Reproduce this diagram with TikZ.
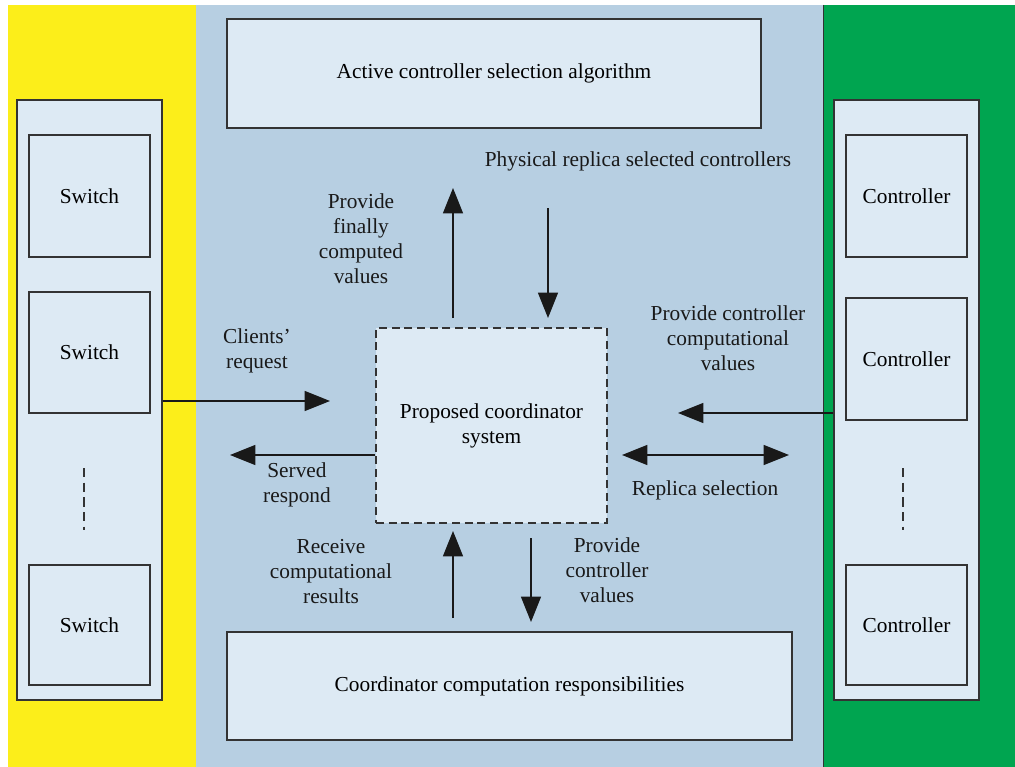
\documentclass[tikz,border=0pt]{standalone}
\usepackage{fontspec}
\setmainfont{Liberation Serif}
\usetikzlibrary{arrows.meta}
\definecolor{swyellow}{HTML}{FCEE1A}
\definecolor{midblue}{HTML}{B7CFE2}
\definecolor{ctgreen}{HTML}{00A550}
\definecolor{boxfill}{HTML}{DDEAF4}
\definecolor{edge}{HTML}{333333}
\tikzset{
  box/.style={draw=edge, fill=boxfill, line width=0.9pt, inner sep=0pt, align=center},
  sz/.style 2 args={minimum width=#1*0.75pt, minimum height=#2*0.75pt},
  dbox/.style={box, dash pattern=on 6pt off 3.5pt},
  lbl/.style={align=center, inner sep=0pt, text=black!90},
  flow/.style={draw=black!90, line width=0.9pt, -{Triangle[length=19pt,width=15pt]}},
  bflow/.style={flow, {Triangle[length=19pt,width=15pt]}-{Triangle[length=19pt,width=15pt]}},
  gap/.style={draw=edge, line width=0.8pt, dash pattern=on 7pt off 4pt},
}
\begin{document}
\begin{tikzpicture}[x=0.75pt,y=-0.75pt,font=\fontsize{16}{18.75}\selectfont]
\useasboundingbox (0,0) rectangle (1015,767);
% background bands
\fill[swyellow] (8,5) rectangle (196,767);
\fill[midblue] (196,5) rectangle (823,767);
\fill[ctgreen] (823,5) rectangle (1015,767);
\draw[edge, line width=0.6pt] (823,5) -- (823,767);

% switch column
\node[box, sz={145}{600}] (lo) at (89.5,400) {};
\node[box, sz={121}{122}] (s1) at (89.5,196) {Switch};
\node[box, sz={121}{121}] (s2) at (89.5,352.5) {Switch};
\node[box, sz={121}{120}] (s3) at (89.5,625) {Switch};
\coordinate (ldt) at (84,468);
\coordinate (ldb) at (84,530);
\draw[gap] (ldt) -- (ldb);

% controller column
\node[box, sz={145}{600}] (ro) at (906.5,400) {};
\node[box, sz={121}{122}] (c1) at (906.5,196) {Controller};
\node[box, sz={121}{122}] (c2) at (906.5,359) {Controller};
\node[box, sz={121}{120}] (c3) at (906.5,625) {Controller};
\coordinate (rdt) at (903,468);
\coordinate (rdb) at (903,530);
\draw[gap] (rdt) -- (rdb);

% central blocks
\node[box, sz={534}{109}] (top) at (494,73.5) {Active controller selection algorithm};
\node[box, sz={565}{108}] (bot) at (509.5,686) {Coordinator computation responsibilities};
\node[dbox, sz={231}{195}] (cs) at (491.5,425.5) {Proposed coordinator\\system};

% arrow end points
\coordinate (upT) at (453,188);  \coordinate (upB) at (453,318);
\coordinate (dnT) at (548,208);  \coordinate (dnB) at (548,318);
\coordinate (clE) at (330,401);
\coordinate (srE) at (230,455);
\coordinate (pcE) at (678,413);
\coordinate (rsL) at (622,455);  \coordinate (rsR) at (789,455);
\coordinate (rcB) at (453,618);  \coordinate (rcT) at (453,531);
\coordinate (pvT) at (531,538);  \coordinate (pvB) at (531,622);

% connectors
\draw[flow] (upB) -- (upT);
\draw[flow] (dnT) -- (dnB);
\draw[flow] (lo.east |- clE) -- (clE);
\draw[flow] (cs.west |- srE) -- (srE);
\draw[flow] (ro.west |- pcE) -- (pcE);
\draw[bflow] (rsL) -- (rsR);
\draw[flow] (rcB) -- (rcT);
\draw[flow] (pvT) -- (pvB);

% labels
\node[lbl] (l1) at (361,239) {Provide\\finally\\computed\\values};
\node[lbl] (l2) at (638,161) {Physical replica selected controllers};
\node[lbl] (l3) at (257,351) {Clients’\\request};
\node[lbl] (l4) at (297,485) {Served\\respond};
\node[lbl] (l5) at (728,338) {Provide controller\\computational\\values};
\node[lbl] (l6) at (705,490) {Replica selection};
\node[lbl] (l7) at (331,572) {Receive\\computational\\results};
\node[lbl] (l8) at (607,570) {Provide\\controller\\values};
\end{tikzpicture}
\end{document}
